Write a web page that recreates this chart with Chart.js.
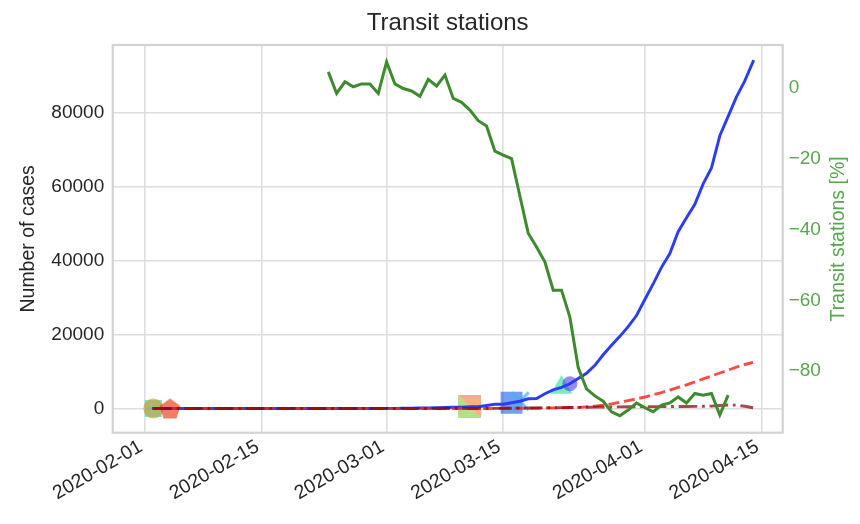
<!DOCTYPE html>
<html>
<head>
<meta charset="utf-8">
<script src="https://cdn.jsdelivr.net/npm/chart.js@4.4.0/dist/chart.umd.min.js"></script>
<style>
  html, body { margin: 0; padding: 0; background: #fff; }
  #chart { display: block; }
</style>
</head>
<body>
<canvas id="chart" width="860" height="524"></canvas>
<script>
// daily series, first value on caseStart
const caseStart = '2020-02-02';
const cases = [
  2, 2, 2, 2, 2, 2, 2, 3, 8, 8, 8, 9, 9, 9, 9, 9, 9, 9, 9, 9, 9, 9, 9, 13, 13, 13, 20, 23,
  36, 40, 51, 85, 115, 163, 206, 273, 321, 382, 456, 459, 798, 1140, 1140, 1550, 1960, 2640,
  2720, 4010, 5020, 5700, 6700, 8100, 9530, 11660, 14540, 17090, 19520, 22140, 25150,
  29470, 33720, 38170, 41900, 47810, 51610, 55240, 60730, 65080, 73760, 78990, 84280, 88620, 93870
];
const deaths = [
  0, 0, 0, 0, 0, 0, 0, 0, 0, 0, 0, 0, 0, 0, 0, 0, 0, 0, 0, 0, 0, 0, 0, 0, 0, 0, 0, 0,
  0, 0, 0, 0, 1, 1, 2, 2, 3, 5, 6, 8, 8, 21, 21, 56, 56, 72, 100, 150, 180, 220, 280, 300,
  450, 650, 900, 1250, 1700, 2150, 2600,
  3100, 3700, 4300, 5000, 5700, 6400, 7200, 8000, 8800, 9600, 10400, 11200, 11900, 12500
];
const other = [
  0, 0, 0, 0, 0, 0, 0, 0, 0, 0, 0, 0, 0, 0, 0, 0, 0, 0, 0, 0, 0, 0, 0, 0, 0, 0, 0, 0,
  0, 0, 0, 0, 0, 0, 0, 0, 0, 0, 10, 20, 30, 40, 60, 80, 100, 120, 150, 180, 200, 230,
  260, 300, 330, 360, 400, 420, 440, 460, 480,
  500, 500, 520, 520, 540, 560, 580, 600, 650, 800, 950, 900, 600, 200
];

const transitStart = '2020-02-23';
const transit = [
  4.6, -1.5, 1.8, 0.4, 1.2, 1.2, -1.5,
  7.4, 1.2, -0.1, -0.8, -2.3, 2.5, 0.6, 3.7, -2.9, -4.0, -6.2, -9.2, -10.7, -17.8, -18.9,
  -19.9, -30.5, -41.0, -44.9, -49.1, -57.1, -57.1, -64.7, -79.0, -85.0, -87.0, -88.5, -91.5,
  -92.6, -91.0, -89.0,
  -90.3, -91.5, -89.6, -89.0, -87.3, -89.0, -86.3, -86.8, -86.3, -92.4, -86.8
];

// event markers sit on the case curve at their date
const eventDates = ['2020-02-02', '2020-02-02', '2020-02-04', '2020-03-11', '2020-03-16', '2020-03-17', '2020-03-22', '2020-03-23'];

const dateTicks = ['2020-02-01', '2020-02-15', '2020-03-01', '2020-03-15', '2020-04-01', '2020-04-15'];
const caseTicks = [0, 20000, 40000, 60000, 80000];
const transitTicks = [0, -20, -40, -60, -80];

const DAY = 86400000;
const origin = Date.parse('2020-02-01');
const dayOf = (s) => (Date.parse(s) - origin) / DAY;

const series = (start, values) => values.map((v, i) => ({ x: dayOf(start) + i, y: v }));

const FONT = 'Liberation Sans, Arial, Helvetica, sans-serif';
const TEXT = '#262626';
const GREEN_TXT = '#5aa54f';

const makeMarker = (size, draw) => {
  const c = document.createElement('canvas');
  c.width = size;
  c.height = size;
  draw(c.getContext('2d'), size);
  return c;
};

const pentagon = makeMarker(24, (ctx, s) => {
  ctx.beginPath();
  for (let k = 0; k < 5; k++) {
    const a = -Math.PI / 2 + k * 2 * Math.PI / 5;
    ctx.lineTo(s / 2 + 11 * Math.cos(a), s / 2 + 1 + 11 * Math.sin(a));
  }
  ctx.closePath();
  ctx.fillStyle = 'rgba(230,40,0,0.6)';
  ctx.fill();
});

const splitSquare = makeMarker(23, (ctx, s) => {
  ctx.fillStyle = 'rgba(240,110,30,0.55)';
  ctx.beginPath();
  ctx.moveTo(0, 0); ctx.lineTo(s, 0); ctx.lineTo(s, s); ctx.closePath();
  ctx.fill();
  ctx.fillStyle = 'rgba(120,195,40,0.55)';
  ctx.beginPath();
  ctx.moveTo(0, 0); ctx.lineTo(s, s); ctx.lineTo(0, s); ctx.closePath();
  ctx.fill();
});

const markerStyles = [
  { pointStyle: 'rect', radius: 12, color: 'rgba(0,210,150,0.5)' },
  { pointStyle: 'circle', radius: 10, color: 'rgba(210,150,40,0.6)' },
  { pointStyle: pentagon, radius: 11, color: 'rgba(230,40,0,0.6)' },
  { pointStyle: splitSquare, radius: 11, color: 'rgba(240,110,30,0.55)' },
  { pointStyle: 'rect', radius: 15.5, color: 'rgba(30,100,230,0.62)' },
  { pointStyle: 'crossRot', radius: 12.5, color: 'rgba(60,180,240,0.7)', line: 3 },
  { pointStyle: 'triangle', radius: 12.5, color: 'rgba(40,220,150,0.62)' },
  { pointStyle: 'circle', radius: 7.5, color: 'rgba(80,60,240,0.6)' }
];

const caseAt = (d) => cases[Math.round(dayOf(d) - dayOf(caseStart))];

const markerSets = eventDates.map((d, i) => {
  const st = markerStyles[i];
  return {
    type: 'scatter',
    data: [{ x: dayOf(d), y: caseAt(d) }],
    yAxisID: 'y',
    showLine: false,
    pointStyle: st.pointStyle,
    pointRadius: st.radius,
    backgroundColor: st.color,
    borderColor: st.color,
    borderWidth: st.line || 0,
    order: 20 - i
  };
});

const frame = {
  id: 'frame',
  afterDatasetsDraw(chart) {
    const { ctx, chartArea: a } = chart;
    ctx.save();
    ctx.strokeStyle = '#d2d2d2';
    ctx.lineWidth = 2.2;
    ctx.strokeRect(a.left, a.top, a.right - a.left, a.bottom - a.top);
    ctx.restore();
  }
};

const rightTitle = {
  id: 'rightTitle',
  afterDraw(chart) {
    const { ctx, chartArea: a } = chart;
    ctx.save();
    ctx.translate(838.5, (a.top + a.bottom) / 2);
    ctx.rotate(-Math.PI / 2);
    ctx.font = '19.5px ' + FONT;
    ctx.fillStyle = GREEN_TXT;
    ctx.textAlign = 'center';
    ctx.textBaseline = 'middle';
    ctx.fillText('Transit stations [%]', 0, 0);
    ctx.restore();
  }
};

new Chart(document.getElementById('chart'), {
  type: 'scatter',
  data: {
    datasets: [
      {
        data: series(transitStart, transit),
        yAxisID: 'y2',
        showLine: true,
        borderColor: '#3d8b2e',
        borderWidth: 3,
        pointRadius: 0,
        tension: 0,
        order: 0
      },
      {
        data: series(caseStart, other),
        yAxisID: 'y',
        showLine: true,
        borderColor: 'rgba(140,0,0,0.72)',
        borderWidth: 2.9,
        borderDash: [18.6, 4.7, 2.9, 4.7],
        borderCapStyle: 'butt',
        pointRadius: 0,
        tension: 0,
        order: 1
      },
      {
        data: series(caseStart, deaths),
        yAxisID: 'y',
        showLine: true,
        borderColor: 'rgba(255,30,20,0.8)',
        borderWidth: 2.9,
        borderDash: [11, 4.7],
        borderCapStyle: 'butt',
        pointRadius: 0,
        tension: 0,
        order: 2
      },
      {
        data: series(caseStart, cases),
        yAxisID: 'y',
        showLine: true,
        borderColor: '#2a3df5',
        borderWidth: 2.9,
        borderCapStyle: 'square',
        pointRadius: 0,
        tension: 0,
        order: 3
      },
      ...markerSets
    ]
  },
  options: {
    responsive: false,
    animation: false,
    layout: { padding: 0 },
    plugins: {
      legend: { display: false },
      tooltip: { enabled: false },
      title: {
        display: true,
        fullSize: false,
        text: 'Transit stations',
        color: TEXT,
        font: { family: FONT, size: 24, weight: 'normal' },
        padding: { top: 8.8, bottom: 7.4 }
      }
    },
    scales: {
      x: {
        type: 'linear',
        min: -3.88,
        max: 76.55,
        afterFit(s) { s.height = 91.3; },
        afterBuildTicks(s) { s.ticks = dateTicks.map((d) => ({ value: dayOf(d) })); },
        grid: { color: '#dedede', lineWidth: 1.6, drawTicks: false },
        border: { display: false },
        ticks: {
          autoSkip: false,
          minRotation: 30,
          maxRotation: 30,
          padding: 2.5,
          labelOffset: -4,
          color: TEXT,
          font: { family: FONT, size: 19.5 },
          callback: (v, i) => dateTicks[i]
        }
      },
      y: {
        position: 'left',
        min: -6545,
        max: 98310,
        afterFit(s) { s.width = 112.7; },
        afterBuildTicks(s) { s.ticks = caseTicks.map((v) => ({ value: v })); },
        grid: { color: '#dedede', lineWidth: 1.6, drawTicks: false },
        border: { display: false },
        ticks: {
          padding: 8.5,
          color: TEXT,
          font: { family: FONT, size: 19 },
          callback: (v) => String(v)
        },
        title: {
          display: true,
          text: 'Number of cases',
          color: TEXT,
          font: { family: FONT, size: 19.5 },
          padding: { top: 17.3, bottom: 0 }
        }
      },
      y2: {
        position: 'right',
        min: -97.4,
        max: 12.2,
        afterFit(s) { s.width = 77.3; },
        afterBuildTicks(s) { s.ticks = transitTicks.map((v) => ({ value: v })); },
        grid: { display: false, drawTicks: false },
        border: { display: false },
        ticks: {
          padding: 6,
          color: GREEN_TXT,
          font: { family: FONT, size: 19 },
          callback: (v) => String(v).replace('-', '\u2212')
        }
      }
    }
  },
  plugins: [frame, rightTitle]
});
</script>
</body>
</html>
